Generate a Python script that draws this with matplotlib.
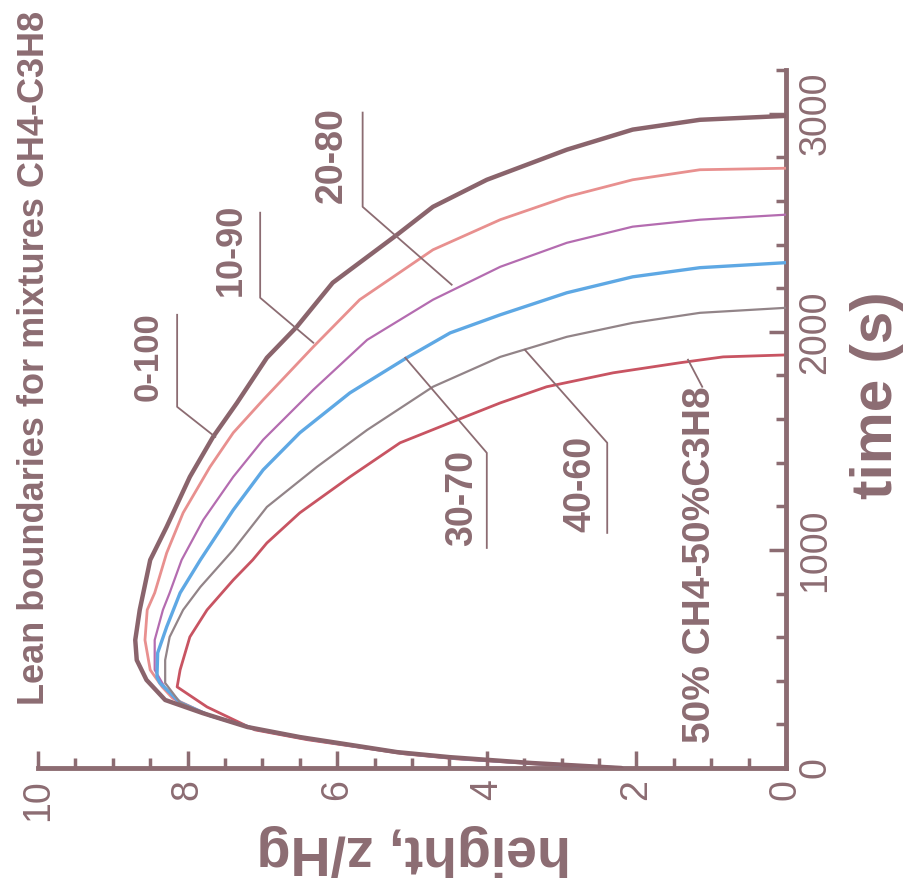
import matplotlib
matplotlib.use("Agg")
import matplotlib.pyplot as plt
from matplotlib.ticker import MultipleLocator

# lean flammability boundaries, height z/Hg against time (s)
h_0_100 = [2.2, 3.4, 4.5, 5.2, 5.8, 6.5, 7.2, 7.8, 8.3, 8.55, 8.68, 8.7, 8.64, 8.5, 8.28, 7.97, 7.66, 7.34, 6.94, 6.54, 6.06, 5.2, 4.72, 4.0, 2.93, 2.05, 1.15, 0.0]
t_0_100 = [0, 23, 50, 73, 105, 142, 188, 252, 312, 404, 495, 587, 725, 954, 1106, 1335, 1518, 1674, 1881, 2023, 2225, 2445, 2573, 2697, 2835, 2927, 2972, 2990]

h_10_90 = [2.2, 3.3, 4.4, 5.1, 5.7, 6.4, 7.1, 7.7, 8.2, 8.34, 8.5, 8.57, 8.54, 8.44, 8.28, 8.06, 7.70, 7.39, 6.99, 6.32, 5.70, 5.25, 4.72, 3.82, 2.93, 2.05, 1.15, 0.0]
t_10_90 = [0, 20, 45, 68, 98, 135, 180, 240, 320, 372, 450, 587, 725, 803, 986, 1170, 1381, 1537, 1688, 1931, 2147, 2252, 2376, 2514, 2619, 2697, 2743, 2750]

h_20_80 = [2.2, 3.3, 4.4, 5.1, 5.7, 6.4, 7.1, 7.7, 8.15, 8.30, 8.44, 8.44, 8.33, 8.24, 8.08, 7.79, 7.39, 6.99, 6.32, 5.60, 4.72, 3.82, 2.93, 2.05, 1.15, 0.0]
t_20_80 = [0, 20, 45, 68, 98, 135, 180, 240, 310, 367, 450, 587, 725, 803, 954, 1138, 1335, 1505, 1734, 1963, 2147, 2298, 2408, 2482, 2514, 2537]

h_30_70 = [2.2, 3.3, 4.4, 5.1, 5.7, 6.4, 7.1, 7.7, 8.1, 8.37, 8.41, 8.40, 8.28, 8.10, 7.83, 7.39, 6.99, 6.50, 5.83, 5.07, 4.49, 3.82, 2.93, 2.05, 1.15, 0.0]
t_30_70 = [0, 20, 45, 68, 98, 135, 180, 240, 300, 390, 417, 528, 647, 803, 954, 1183, 1367, 1537, 1720, 1881, 1995, 2078, 2179, 2252, 2294, 2317]

h_40_60 = [2.2, 3.3, 4.4, 5.1, 5.7, 6.4, 7.1, 7.7, 8.1, 8.30, 8.30, 8.24, 8.06, 7.83, 7.39, 6.94, 6.27, 5.60, 4.72, 3.82, 2.93, 2.05, 1.15, 0.0]
t_40_60 = [0, 20, 45, 68, 98, 135, 180, 240, 300, 390, 495, 601, 725, 830, 1000, 1197, 1381, 1550, 1748, 1885, 1977, 2041, 2087, 2110]

h_50_50 = [2.2, 3.3, 4.4, 5.1, 5.7, 6.4, 7.1, 7.74, 8.14, 8.10, 7.97, 7.74, 7.39, 7.13, 6.94, 6.50, 5.83, 5.16, 4.49, 3.82, 3.20, 2.31, 1.42, 0.84, 0.0]
t_50_50 = [0, 18, 42, 65, 95, 130, 175, 280, 372, 450, 601, 725, 862, 954, 1032, 1170, 1335, 1491, 1583, 1674, 1748, 1812, 1858, 1885, 1894]

mixtures = ["0-100", "10-90", "20-80", "30-70", "40-60", "50% CH4-50%C3H8"]

ink = "#8c6c72"
# (height, time, colour, width, zorder) - pure C3H8 drawn on top
curves = [
    (h_0_100, t_0_100, "#8a646c", 3.2, 4),
    (h_10_90, t_10_90, "#e8908f", 2.0, 3),
    (h_20_80, t_20_80, "#b46cb0", 1.6, 3),
    (h_30_70, t_30_70, "#5ea8e4", 2.4, 3),
    (h_40_60, t_40_60, "#928488", 1.6, 3),
    (h_50_50, t_50_50, "#c85462", 2.0, 2),
]

# label text centre, font size and leader polyline for each curve
label_pos = [(8.53, 1885), (7.41, 2376), (6.07, 2812), (4.33, 1239), (2.75, 1303), (1.15, 931)]
label_size = [25, 26, 27, 27, 27, 28]
leaders = [
    ([8.14, 8.14, 7.63], [2078, 1656, 1518]),
    ([7.03, 7.03, 6.32], [2546, 2156, 1950]),
    ([5.66, 5.66, 4.47], [3005, 2573, 2216]),
    ([4.0, 4.0, 5.09], [1009, 1445, 1881]),
    ([2.39, 2.39, 3.49], [1078, 1491, 1917]),
    ([1.12, 1.31], [1748, 1872]),
]

plt.rcParams["font.family"] = ["Liberation Sans", "DejaVu Sans"]

fig = plt.figure(figsize=(9.05, 8.88), dpi=100)
ax = fig.add_axes([0.042, 0.1351, 0.8265, 0.786])

for h, t, c, lw, z in curves:
    ax.plot(h, t, color=c, lw=lw, solid_capstyle="round", zorder=z)

for (x, y), (lx, ly), name, fs in zip(label_pos, leaders, mixtures, label_size):
    ax.plot(lx, ly, color=ink, lw=1.3, zorder=5)
    ax.text(x, y, name, rotation=90, ha="center", va="center",
            fontsize=fs, fontweight="bold", color=ink)

ax.set_xlim(10, 0)
ax.set_ylim(0, 3200)
ax.xaxis.set_major_locator(MultipleLocator(2))
ax.xaxis.set_minor_locator(MultipleLocator(0.5))
ax.yaxis.set_major_locator(MultipleLocator(1000))
ax.yaxis.set_minor_locator(MultipleLocator(200))
ax.yaxis.tick_right()
ax.yaxis.set_label_position("right")

for side in ["top", "left"]:
    ax.spines[side].set_visible(False)
for side in ["bottom", "right"]:
    ax.spines[side].set_color(ink)
    ax.spines[side].set_linewidth(3.5)

ax.tick_params(which="both", direction="in", color=ink, width=2.5)
ax.tick_params(which="major", length=12)
ax.tick_params(which="minor", length=7)
ax.tick_params(axis="x", labelrotation=90, labelsize=27, labelcolor=ink, pad=8)
ax.tick_params(axis="y", labelrotation=90, labelsize=27, labelcolor=ink, pad=8)
for lab in ax.get_yticklabels():
    lab.set_va("center")

ax.set_xlabel("height, z/Hg", fontsize=40, fontweight="bold", color=ink, rotation=180)
ax.xaxis.label.set_va("center")
ax.xaxis.set_label_coords(0.503, -0.1175)
ax.set_ylabel("time (s)", fontsize=42, fontweight="bold", color=ink, rotation=90)
ax.yaxis.label.set_va("center")
ax.yaxis.set_label_coords(1.1217, 0.534)

fig.text(35 / 905, 1 - 358 / 888, "Lean boundaries for mixtures CH4-C3H8",
         rotation=90, ha="center", va="center", fontsize=26, fontweight="bold", color=ink)

fig.savefig("out.png", dpi=100)
